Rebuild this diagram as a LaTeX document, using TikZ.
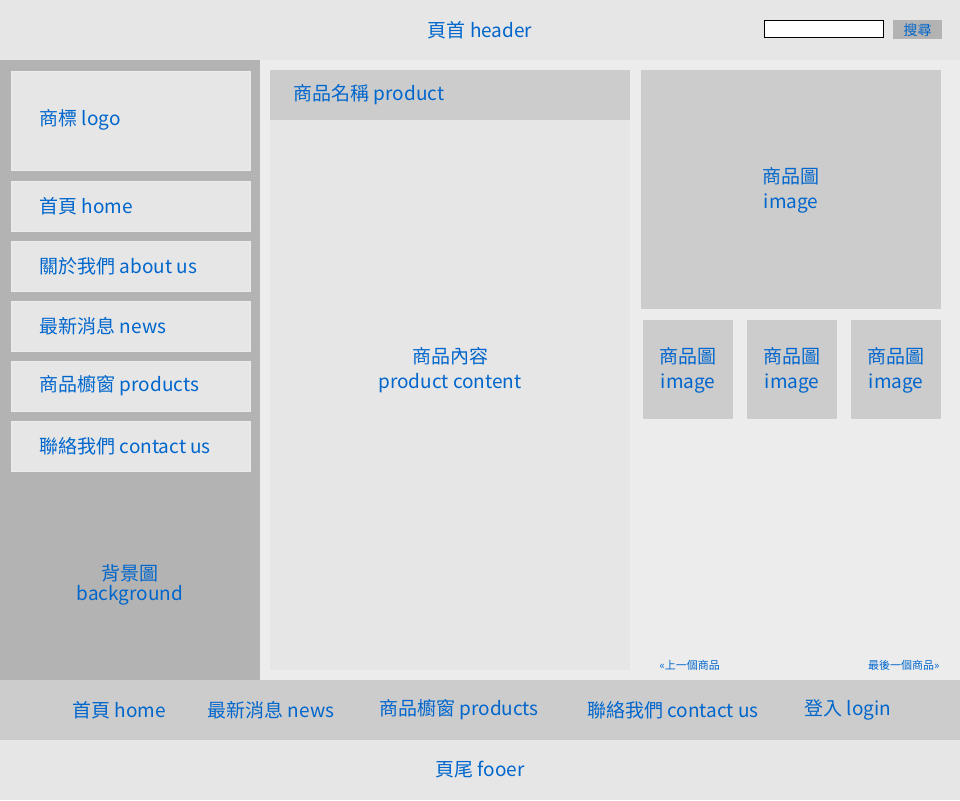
\documentclass[tikz,border=0pt]{standalone}
\usepackage{fontspec}
\setmainfont{Noto Sans CJK TC}
\definecolor{txt}{HTML}{0066CC}
\definecolor{gA}{HTML}{E6E6E6}
\definecolor{gB}{HTML}{B3B3B3}
\definecolor{gC}{HTML}{CCCCCC}
\definecolor{gD}{HTML}{ECECEC}
\tikzset{
  lbl/.style={text=txt, font=\fontsize{19}{22}\selectfont, align=center},
  menubox/.style={fill=gA, draw=gD, line width=1pt},
  imgbox/.style={fill=gC},
}
\begin{document}
\begin{tikzpicture}[x=1pt, y=-1pt]
\useasboundingbox (0,0) rectangle (960,800);
% header
\fill[gA] (0,0) rectangle (960,60);
\node[lbl] (header) at (480,30) {頁首 header};
\draw[fill=white, line width=1pt] (764,21) rectangle (883,38);
\fill[gB] (893,20) rectangle (942,39);
\node[lbl, font=\fontsize{14}{16}\selectfont] (search) at (917.5,30) {搜尋};
% sidebar
\fill[gB] (0,60) rectangle (260,680);
\draw[menubox] (11,71) rectangle (250,170);
\node[lbl, anchor=west] (logo) at (36,120) {商標 logo};
\foreach \y/\t/\nm in {181/首頁 home/home, 241/關於我們 about us/about,
  301/最新消息 news/news, 361/商品櫥窗 products/products, 421/聯絡我們 contact us/contact}{
  \draw[menubox] (11,\y) rectangle (250,\y+50);
  \node[lbl, anchor=west] (\nm) at (36,\y+25) {\t};
}
\node[lbl, font=\fontsize{19}{20}\selectfont] (bg) at (130,585) {背景圖\\background};
% main
\fill[gD] (260,60) rectangle (960,680);
\fill[gC] (270,70) rectangle (630,120);
\node[lbl, anchor=west] (product) at (290,95) {商品名稱 product};
\fill[gA] (270,120) rectangle (630,670);
\node[lbl, font=\fontsize{19}{25}\selectfont] (content) at (450,370) {商品內容\\product content};
\fill[imgbox] (641,70) rectangle (941,309);
\node[lbl, font=\fontsize{19}{25}\selectfont] (bigimg) at (791,190) {商品圖\\image};
\foreach \x/\nm in {643/imgA, 747/imgB, 851/imgC}{
  \fill[imgbox] (\x,320) rectangle (\x+90,419);
  \node[lbl, font=\fontsize{19}{25}\selectfont] (\nm) at (\x+45,370) {商品圖\\image};
}
\node[lbl, font=\fontsize{11}{13}\selectfont, anchor=west] (prev) at (656,665) {«上一個商品};
\node[lbl, font=\fontsize{11}{13}\selectfont, anchor=east] (last) at (943,665) {最後一個商品»};
% nav
\fill[gC] (0,680) rectangle (960,740);
\foreach \x/\t/\nm in {119/首頁 home/navA, 271/最新消息 news/navB, 459/商品櫥窗 products/navC,
  673/聯絡我們 contact us/navD, 848/登入 login/navE}{
  \node[lbl] (\nm) at (\x,710) {\t};
}
% footer
\fill[gA] (0,740) rectangle (960,800);
\node[lbl] (footer) at (480,770) {頁尾 fooer};
\end{tikzpicture}
\end{document}
